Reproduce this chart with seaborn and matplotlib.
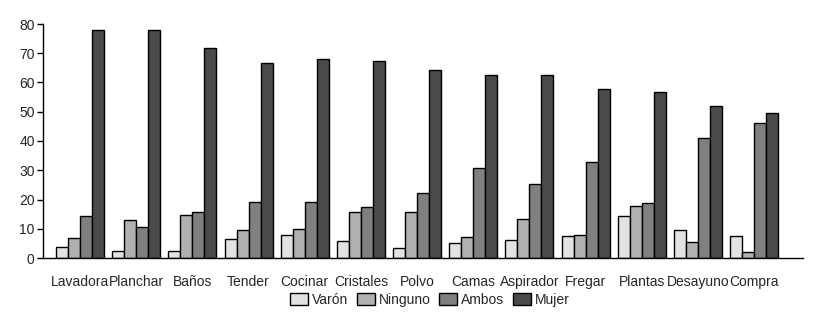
import pandas as pd
import matplotlib
matplotlib.use("Agg")
import matplotlib.pyplot as plt
import seaborn as sns

tareas = ["Lavadora", "Planchar", "Baños", "Tender", "Cocinar", "Cristales",
          "Polvo", "Camas", "Aspirador", "Fregar", "Plantas", "Desayuno",
          "Compra"]
varon = [3.7, 2.3, 2.3, 6.5, 7.8, 5.7, 3.3, 5.0, 6.2, 7.4, 14.3, 9.5, 7.4]
ninguno = [6.9, 12.9, 14.7, 9.6, 9.8, 15.7, 15.7, 7.1, 13.3, 7.8, 17.7, 5.4, 1.9]
ambos = [14.3, 10.5, 15.8, 19.2, 19.2, 17.4, 22.3, 30.8, 25.4, 32.8, 18.8, 41.1, 46.2]
mujer = [77.9, 77.9, 71.7, 66.8, 68.2, 67.3, 64.4, 62.4, 62.4, 57.9, 56.9, 52.1, 49.7]
grupos = ["Varón", "Ninguno", "Ambos", "Mujer"]
colores = ["#e2e2e2", "#b0b0b0", "#808080", "#4a4a4a"]


def main():
    df = pd.DataFrame({"tarea": tareas * 4,
                       "grupo": sum([[g] * len(tareas) for g in grupos], []),
                       "valor": varon + ninguno + ambos + mujer})

    sns.set_style("white")
    plt.rcParams['font.family'] = ["Liberation Sans Narrow", "Liberation Sans",
                                   "DejaVu Sans"]
    plt.rcParams['font.size'] = 9

    fig = plt.figure(figsize=(8.21, 3.16), dpi=100)
    ax = fig.add_axes([43 / 821, 1 - 258 / 316, 760 / 821, 234 / 316])

    sns.barplot(x="tarea", y="valor", hue="grupo", data=df, order=tareas,
                hue_order=grupos, palette=colores, width=0.855,
                edgecolor="black", linewidth=1.0, saturation=1, ax=ax,
                legend=True)

    ax.set_xlim(-0.66, 12.87)
    ax.set_ylim(0, 80)
    ax.set_yticks(range(0, 81, 10))
    ax.set_xlabel("")
    ax.set_ylabel("")
    sns.despine(ax=ax, top=True, right=True)
    for s in ["left", "bottom"]:
        ax.spines[s].set_color("black")
        ax.spines[s].set_linewidth(1.0)
    ax.tick_params(axis="y", length=4, width=1, color="black", direction="out",
                   labelsize=10, pad=2, left=True)
    ax.tick_params(axis="x", length=0, labelsize=10, pad=12)

    handles, labels = ax.get_legend_handles_labels()
    ax.get_legend().remove()
    fig.legend(handles, labels, loc="center", bbox_to_anchor=(430 / 821, 1 - 300 / 316),
               ncol=4, frameon=False, fontsize=10, handlelength=1.3,
               handleheight=0.9, handletextpad=0.3, columnspacing=0.6)

    plt.savefig("out.png", dpi=100)


if __name__ == "__main__":
    main()
